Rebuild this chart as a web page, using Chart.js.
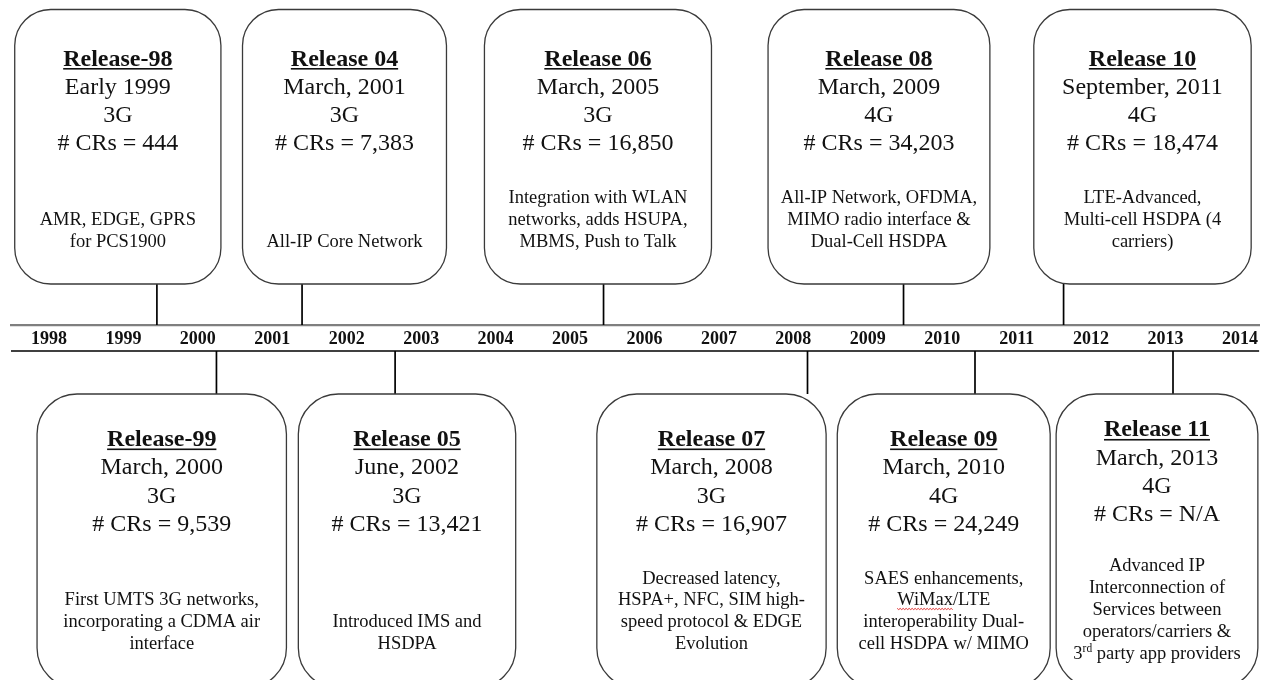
<!DOCTYPE html>
<html>
<head>
<meta charset="utf-8">
<title>3GPP Releases</title>
<script src="https://cdn.jsdelivr.net/npm/chart.js@4.4.0/dist/chart.umd.min.js"></script>
<style>
    html, body { margin: 0; padding: 0; background: #fff; }
    #wrap { width: 1262px; height: 680px; }
</style>
</head>
<body>
<div id="wrap"><canvas id="timelineChart" width="1262" height="680"></canvas></div>
<script>
// Etiquetas del eje de años
const years = [1998, 1999, 2000, 2001, 2002, 2003, 2004, 2005, 2006, 2007, 2008, 2009, 2010, 2011, 2012, 2013, 2014];

// Datos de cada release (orden cronológico)
const releaseNames = ['Release-98', 'Release-99', 'Release 04', 'Release 05', 'Release 06',
                      'Release 07', 'Release 08', 'Release 09', 'Release 10', 'Release 11'];
const releaseDates = ['Early 1999', 'March, 2000', 'March, 2001', 'June, 2002', 'March, 2005',
                      'March, 2008', 'March, 2009', 'March, 2010', 'September, 2011', 'March, 2013'];
const generations = ['3G', '3G', '3G', '3G', '3G', '3G', '4G', '4G', '4G', '4G'];
const crCounts = [444, 9539, 7383, 13421, 16850, 16907, 34203, 24249, 18474, null];
// Punto de la línea de tiempo donde cae cada release
const releaseTimes = [1999.45, 2000.25, 2001.40, 2002.65, 2005.45, 2008.19, 2009.48, 2010.44, 2011.63, 2013.10];
const features = [
    ['AMR, EDGE, GPRS', 'for PCS1900'],
    ['First UMTS 3G networks,', 'incorporating a CDMA air', 'interface'],
    ['All-IP Core Network'],
    ['Introduced IMS and', 'HSDPA'],
    ['Integration with WLAN', 'networks, adds HSUPA,', 'MBMS, Push to Talk'],
    ['Decreased latency,', 'HSPA+, NFC, SIM high-', 'speed protocol & EDGE', 'Evolution'],
    ['All-IP Network, OFDMA,', 'MIMO radio interface &', 'Dual-Cell HSDPA'],
    ['SAES enhancements,', 'WiMax/LTE', 'interoperability Dual-', 'cell HSDPA w/ MIMO'],
    ['LTE-Advanced,', 'Multi-cell HSDPA (4', 'carriers)'],
    ['Advanced IP', 'Interconnection of', 'Services between', 'operators/carriers &', '3{rd} party app providers']
];

// Disposición (no son datos): extensión de las cajas en unidades del eje x
const xMin = 1997.49, xMax = 2014.26;
const lowerRule = -26;
const boxLeft  = [1997.54, 1997.84, 2000.60, 2001.35, 2003.85, 2005.36, 2007.66, 2008.59, 2011.23, 2011.53];
const boxRight = [2000.31, 2001.19, 2003.34, 2004.27, 2006.90, 2008.44, 2010.64, 2011.45, 2014.15, 2014.24];
const rows = [
    { yTop: 315.5, yBottom: 41, radius: 36, headOffset: 56, descOffset: 237 },
    { yTop: -69, yBottom: -363, radius: 40, headOffset: 52, descOffset: 255 }
];
const HEAD_LH = 28.3, DESC_LH = 21.8, MIN_GAP = 50;
const SERIF = '"Liberation Serif", "Times New Roman", serif';

function formatCR(v) {
    return v === null ? 'N/A' : v.toLocaleString('en-US');
}

// Trocea una línea con superíndices marcados como {..}
function segments(line) {
    const out = [];
    line.split(/(\{[^}]*\})/).forEach(part => {
        if (!part) return;
        if (part[0] === '{') out.push({ text: part.slice(1, -1), sup: true });
        else out.push({ text: part, sup: false });
    });
    return out;
}

function drawDescLine(ctx, line, cx, baseline) {
    const size = 18.5;
    const segs = segments(line);
    let total = 0;
    segs.forEach(s => {
        ctx.font = (s.sup ? size * 0.62 : size) + 'px ' + SERIF;
        s.w = ctx.measureText(s.text).width;
        total += s.w;
    });
    let x = cx - total / 2;
    ctx.textAlign = 'left';
    segs.forEach(s => {
        ctx.font = (s.sup ? size * 0.62 : size) + 'px ' + SERIF;
        ctx.fillText(s.text, x, s.sup ? baseline - 7 : baseline);
        x += s.w;
    });

    // subrayado ondulado del corrector (WiMax)
    const idx = line.indexOf('WiMax');
    if (idx >= 0) {
        ctx.font = size + 'px ' + SERIF;
        const start = cx - total / 2 + ctx.measureText(line.slice(0, idx)).width;
        const w = ctx.measureText('WiMax').width;
        ctx.beginPath();
        for (let px = 0; px <= w; px += 1.5) {
            const yy = baseline + 3 + ((Math.round(px / 1.5) % 2) ? 1.2 : 0);
            if (px === 0) ctx.moveTo(start + px, yy); else ctx.lineTo(start + px, yy);
        }
        ctx.strokeStyle = '#e03030';
        ctx.lineWidth = 1;
        ctx.stroke();
    }
}

const releaseBoxes = {
    id: 'releaseBoxes',
    afterDatasetsDraw(chart) {
        const { ctx, scales: { x, y } } = chart;
        releaseNames.forEach((name, i) => {
            const row = rows[i % 2];
            const left = x.getPixelForValue(boxLeft[i]);
            const right = x.getPixelForValue(boxRight[i]);
            const top = y.getPixelForValue(row.yTop);
            const bottom = y.getPixelForValue(row.yBottom);
            const cx = (left + right) / 2;

            ctx.save();
            ctx.beginPath();
            ctx.roundRect(left, top, right - left, bottom - top, row.radius);
            ctx.fillStyle = '#fff';
            ctx.fill();
            ctx.lineWidth = 1.3;
            ctx.strokeStyle = '#3a3a3a';
            ctx.stroke();

            const head = [name, releaseDates[i], generations[i], '# CRs = ' + formatCR(crCounts[i])];
            const desc = features[i];
            let headY = top + row.headOffset;
            let descY = top + row.descOffset;
            const gap = (descY - (desc.length - 1) * DESC_LH) - (headY + 3 * HEAD_LH);
            if (gap < MIN_GAP) {
                headY -= (MIN_GAP - gap) / 2;
                descY += (MIN_GAP - gap) / 2;
            }

            ctx.fillStyle = '#111';
            ctx.textBaseline = 'alphabetic';
            head.forEach((t, k) => {
                ctx.textAlign = 'center';
                ctx.font = (k === 0 ? 'bold ' : '') + '24px ' + SERIF;
                const by = headY + k * HEAD_LH;
                ctx.fillText(t, cx, by);
                if (k === 0) {
                    const w = ctx.measureText(t).width;
                    ctx.fillRect(cx - w / 2, by + 2.5, w, 1.6);
                }
            });
            desc.forEach((t, k) => {
                drawDescLine(ctx, t, cx, descY - (desc.length - 1 - k) * DESC_LH);
            });
            ctx.restore();
        });
    }
};

// Conectores verticales entre la línea de tiempo y cada caja
const stemDatasets = releaseTimes.map((t, i) => {
    const upper = i % 2 === 0;
    return {
        data: [{ x: t, y: upper ? 0 : lowerRule }, { x: t, y: upper ? rows[0].yBottom : rows[1].yTop }],
        showLine: true,
        borderColor: '#000',
        borderWidth: 1.7,
        pointRadius: 0
    };
});

const ruleDataset = {
    data: [{ x: xMin, y: lowerRule }, { x: xMax, y: lowerRule }],
    showLine: true,
    borderColor: '#000',
    borderWidth: 1.4,
    pointRadius: 0
};

const ctx = document.getElementById('timelineChart').getContext('2d');
const timelineChart = new Chart(ctx, {
    type: 'scatter',
    data: { datasets: [ruleDataset, ...stemDatasets] },
    options: {
        responsive: false,
        animation: false,
        events: [],
        layout: { padding: { left: 11, right: 0, top: 0, bottom: 0 } },
        scales: {
            x: {
                type: 'linear',
                min: xMin,
                max: xMax,
                position: { y: 0 },
                grid: { display: false, drawTicks: false },
                border: { display: true, color: '#7f7f7f', width: 2.2 },
                afterBuildTicks: scale => {
                    scale.ticks = years.map(v => ({ value: v }));
                },
                ticks: {
                    autoSkip: false,
                    maxRotation: 0,
                    padding: 4,
                    color: '#111',
                    font: { family: SERIF, weight: 'bold', size: 18 },
                    callback: v => String(v)
                }
            },
            y: {
                type: 'linear',
                display: false,
                min: -355,
                max: 325
            }
        },
        plugins: {
            legend: { display: false },
            tooltip: { enabled: false }
        }
    },
    plugins: [releaseBoxes]
});
</script>
</body>
</html>
